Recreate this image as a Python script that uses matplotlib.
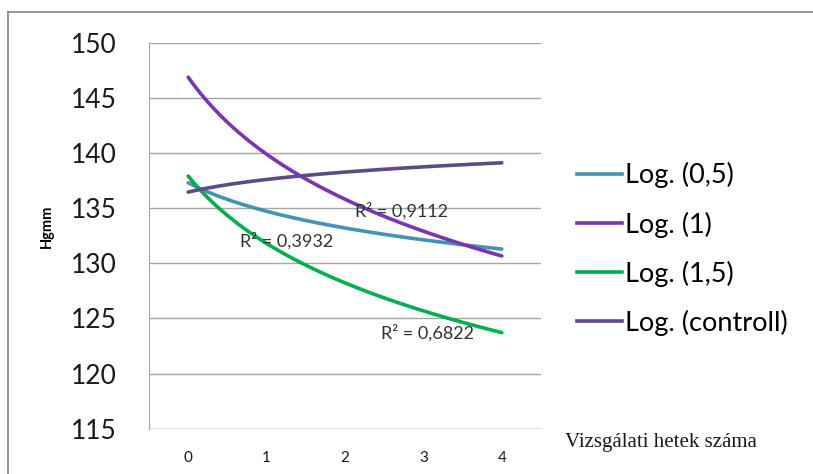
import numpy as np
import matplotlib
matplotlib.use("Agg")
import matplotlib.pyplot as plt
from matplotlib.lines import Line2D

# Weeks of the study (category axis) and trend values read at each week
weeks = [0, 1, 2, 3, 4]
trend_05 = [137.3, 134.7, 133.2, 132.1, 131.3]
trend_1 = [146.85, 139.9, 135.8, 132.9, 130.65]
trend_15 = [137.9, 131.8, 128.2, 125.7, 123.7]
trend_ctrl = [136.45, 137.6, 138.25, 138.75, 139.1]

series_names = ["Log. (0,5)", "Log. (1)", "Log. (1,5)", "Log. (controll)"]
series_values = [trend_05, trend_1, trend_15, trend_ctrl]
series_colors = ["#4393B4", "#7A35B4", "#00B050", "#5E4A8A"]
r2_labels = ["R² = 0,3932", "R² = 0,9112", "R² = 0,6822", None]
r2_pos = [(0.66, 132.0), (2.13, 134.7), (2.46, 123.7), None]

y_ticks = [115, 120, 125, 130, 135, 140, 145, 150]
x_title = "Vizsgálati hetek száma"
y_title = "Hgmm"

W, H = 813, 474
fig = plt.figure(figsize=(W / 100, H / 100), dpi=100)
fig.patch.set_facecolor("white")

# axes rectangle in pixel coordinates
left, right, top, bottom = 149, 541, 42.6, 428.7
ax = fig.add_axes([left / W, 1 - bottom / H, (right - left) / W, (bottom - top) / H])

# logarithmic trend fitted on category index (1..5)
idx = np.array(weeks) + 1.0
xs = np.linspace(idx[0], idx[-1], 200)
for vals, col in zip(series_values, series_colors):
    a, b = np.polyfit(np.log(idx), vals, 1)
    ax.plot(xs - 1, a * np.log(xs) + b, color=col, lw=2.6, solid_capstyle="round", zorder=3)

ax.set_xlim(-0.5, 4.5)
ax.set_ylim(115, 150)
ax.set_yticks(y_ticks)
ax.set_xticks(weeks)
ax.grid(axis="y", color="#A6A6A6", lw=1.0)
ax.set_axisbelow(True)
for s in ["top", "right", "bottom"]:
    ax.spines[s].set_visible(False)
ax.spines["left"].set_color("#A6A6A6")
ax.tick_params(axis="both", length=0)
ax.tick_params(axis="y", labelsize=19, pad=23, labelcolor="#1A1A1A")
ax.tick_params(axis="x", labelsize=11, pad=16, labelcolor="#1A1A1A")
for lab in ax.get_yticklabels() + ax.get_xticklabels():
    lab.set_family("Lato")

# bottom gridline at 115
ax.axhline(115, color="#A6A6A6", lw=1.0, zorder=1)

for lab, pos in zip(r2_labels, r2_pos):
    if lab:
        ax.text(pos[0], pos[1], lab, fontsize=13, family="Lato", color="#333333",
                va="center", ha="left", zorder=4)

fig.text(47 / W, 1 - 226 / H, y_title, rotation=90, fontsize=10.5, fontweight="bold",
         family="Lato", va="center", ha="center")

fig.text(565 / W, 1 - 442 / H, x_title, fontsize=15, family="Liberation Serif",
         va="center", ha="left", color="#1A1A1A")

# legend
handles = [Line2D([0], [0], color=c, lw=2.6) for c in series_colors]
leg = fig.legend(handles, series_names, loc="upper left",
                 bbox_to_anchor=(553 / W, 1 - 138 / H), frameon=False,
                 prop={"family": "Lato", "size": 19.5}, handlelength=1.65,
                 handletextpad=0.12, labelspacing=0.85)

# outer frame
fig.add_artist(Line2D([8 / W, 8 / W], [0, 1 - 12 / H], color="#8C8C8C", lw=1.3,
                      transform=fig.transFigure))
fig.add_artist(Line2D([8 / W, 1], [1 - 12 / H, 1 - 12 / H], color="#8C8C8C", lw=1.3,
                      transform=fig.transFigure))

fig.savefig("out.png", dpi=100)
